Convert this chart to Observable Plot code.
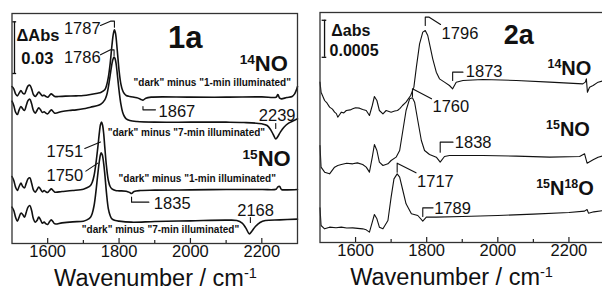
<!DOCTYPE html>
<html><head><meta charset="utf-8">
<script src="https://cdn.jsdelivr.net/npm/d3@7"></script>
<script src="https://cdn.jsdelivr.net/npm/@observablehq/plot@0.6"></script>
<style>
html,body{margin:0;padding:0;background:#fff;overflow:hidden}
#wrap{position:relative;width:602px;height:292px;overflow:hidden;background:#fff}
#p1,#p2{position:absolute;top:0}
#p1{left:0;width:300px}
#p2{left:300px;width:306px}
</style></head><body><div id="wrap"><div id="p1"></div><div id="p2"></div></div>
<script>
// ---------- axis ticks ----------
const majorTicks = [1600, 1800, 2000, 2200];
const minorTicks = [1700, 1900, 2100];
const axisLabel = "Wavenumber / cm^-1^";

// ---------- Panel 1a : [wavenumber, ΔAbs in mAbs (stacked offsets)] ----------
const no14_1min = [[1500,94.2],[1505,92.8],[1510,89.8],[1515,88.6],[1520,90.2],[1525,91.8],[1530,90.2],[1535,89.8],[1540,92.2],[1545,94.6],[1550,95.0],[1555,92.8],[1560,89.4],[1565,88.2],[1570,89.4],[1575,90.8],[1580,89.8],[1585,88.6],[1590,89.0],[1595,88.2],[1600,87.8],[1605,88.8],[1610,89.8],[1615,89.0],[1620,88.2],[1630,88.2],[1650,88.4],[1680,88.6],[1700,88.8],[1720,89.4],[1740,90.2],[1750,90.8],[1760,92.2],[1765,94.8],[1770,99.8],[1775,107.8],[1780,118.8],[1784,125.8],[1787,128.2],[1790,126.2],[1795,115.8],[1800,103.8],[1805,95.8],[1810,91.8],[1815,89.8],[1820,88.8],[1830,88.2],[1850,87.4],[1860,86.6],[1867,86.0],[1875,87.2],[1890,87.8],[2000,87.8],[2100,87.8],[2200,88.0],[2240,87.8],[2245,89.4],[2250,87.2],[2255,86.8],[2270,87.6],[2285,88.2],[2292,89.8],[2297,92.2],[2300,94.2]];
const no14_7min = [[1500,85.4],[1505,82.8],[1510,78.8],[1515,77.4],[1520,80.2],[1525,82.2],[1530,80.8],[1535,79.8],[1540,82.8],[1545,85.8],[1550,86.6],[1555,83.8],[1560,79.8],[1565,78.2],[1570,79.8],[1575,81.4],[1580,80.2],[1585,78.6],[1590,79.0],[1595,78.2],[1600,77.8],[1605,79.0],[1610,80.2],[1615,79.2],[1620,78.2],[1640,79.2],[1660,79.8],[1680,80.2],[1700,80.8],[1720,81.8],[1740,82.8],[1750,83.8],[1760,86.2],[1765,88.8],[1770,93.8],[1775,100.8],[1780,107.8],[1783,110.6],[1786,111.8],[1789,110.8],[1792,107.4],[1795,101.8],[1800,91.8],[1805,83.8],[1810,78.8],[1815,76.2],[1820,74.8],[1830,73.8],[1850,73.2],[1900,72.8],[2000,72.8],[2100,72.8],[2150,72.6],[2200,71.8],[2215,70.8],[2225,68.2],[2232,65.4],[2239,62.8],[2245,64.2],[2252,66.8],[2262,69.8],[2275,72.2],[2290,73.8],[2300,74.8]];
const no15_1min = [[1500,40.2],[1505,37.8],[1510,33.8],[1515,31.8],[1520,34.2],[1525,36.2],[1530,34.2],[1535,33.4],[1540,36.2],[1545,38.8],[1550,39.4],[1555,36.2],[1560,32.2],[1565,30.8],[1570,32.2],[1575,33.8],[1580,32.6],[1585,31.0],[1590,31.8],[1595,31.0],[1600,30.6],[1605,31.8],[1610,32.8],[1615,31.8],[1620,30.8],[1640,31.2],[1670,31.8],[1700,32.6],[1710,33.4],[1720,34.8],[1725,36.8],[1730,40.8],[1735,47.8],[1740,56.8],[1745,66.8],[1748,71.4],[1751,72.8],[1754,70.8],[1757,65.8],[1760,57.8],[1765,45.8],[1770,37.8],[1775,34.2],[1780,32.8],[1790,31.8],[1800,31.6],[1820,31.4],[1830,30.6],[1835,30.0],[1842,31.2],[1860,31.8],[1900,32.0],[2000,32.2],[2100,32.4],[2200,32.4],[2240,32.6],[2245,34.0],[2250,34.2],[2255,32.4],[2270,32.2],[2300,32.4]];
const no15_7min = [[1500,21.8],[1505,19.8],[1510,15.8],[1515,13.4],[1520,15.8],[1525,18.2],[1530,17.4],[1535,15.8],[1540,18.8],[1545,21.8],[1550,22.8],[1555,19.8],[1560,14.8],[1565,12.8],[1570,13.8],[1575,15.8],[1580,14.2],[1585,12.2],[1590,12.8],[1595,11.8],[1600,11.4],[1605,13.0],[1610,14.2],[1615,13.0],[1620,11.8],[1640,12.4],[1670,13.0],[1700,13.4],[1710,14.2],[1720,15.8],[1725,18.2],[1730,22.8],[1735,30.8],[1740,40.8],[1745,49.8],[1748,53.4],[1750,54.4],[1753,53.2],[1757,47.8],[1760,41.8],[1765,29.8],[1770,20.8],[1775,16.8],[1780,14.8],[1790,13.8],[1800,13.4],[1835,12.8],[1900,13.2],[2000,13.6],[2100,14.0],[2130,13.8],[2145,12.2],[2155,9.4],[2165,5.8],[2172,7.4],[2182,10.2],[2195,12.6],[2210,13.8],[2250,14.2],[2300,14.6]];

const p1Leaders = [
  [[1748,130.8],[1776,133.4],[1787,133.4],[1787,129.8]],
  [[1748,113.2],[1776,116.2],[1786,116.2],[1786,112.8]],
  [[1867,82.2],[1867,80.2],[1902,80.2]],
  [[2239,72],[2239,69]],
  [[1704,57.0],[1748,60.9]],
  [[1707,43.4],[1740.5,48.2]],
  [[1835,27.8],[1835,24.8],[1883.5,24.8]],
  [[2168,15.6],[2168,12.6]]
];
const p1PeakCentered = [{t:"1787",x:1697,y:128.6},{t:"1786",x:1697,y:111.2},{t:"2239",x:2243,y:76.8},{t:"1751",x:1648,y:54.8},{t:"1750",x:1648,y:40.8},{t:"2168",x:2182.6,y:19.8}];
const p1PeakLeft = [{t:"1867",x:1910.7,y:79},{t:"1835",x:1897.5,y:24}];
const p1Cond = [
  {t:'"dark" minus "1-min illuminated"',x:2061,y:96.4},
  {t:'"dark" minus "7-min illuminated"',x:1988.6,y:66.2},
  {t:'"dark" minus "1-min illuminated"',x:2019,y:38.8},
  {t:'"dark" minus "7-min illuminated"',x:1916,y:8.2}
];
const p1Iso = [{t:"^14^NO",x:2273,y:107.8},{t:"^15^NO",x:2280.8,y:50.8}];
const p1Title = [{t:"1a",x:1985.5,y:123.4}];
const p1Bar = [{x:1507,y1:102,y2:133}];
const p1Serif = [{y:102,x1:1502,x2:1513},{y:133,x1:1502,x2:1513}];
const p1BarText = [{t:"ΔAbs",x:1512.6,y:124.8},{t:"0.03",x:1525.8,y:110.8}];
const p1AxisLab = [{t:axisLabel,x:1902,y:0}];

// ---------- Panel 2a : [wavenumber, Δabs in µAbs (stacked offsets)] ----------
const n14O = [[1500,2164.5],[1503,2029.5],[1513,1917],[1520,1880],[1527,1827],[1535,1800],[1541,1759.5],[1546,1740],[1550,1692],[1555,1725],[1560,1759.5],[1567,1750],[1574,1782],[1585,1790],[1592,1804.5],[1600,1820],[1611,1813.5],[1620,1795],[1630,1782],[1639,1714.5],[1647,1849.5],[1653,1971],[1660,1917],[1667,1782],[1677,1737],[1686,1782],[1700,1759.5],[1710,1775],[1718,1782],[1725,1810],[1732,1849.5],[1742,1894.5],[1755,1984.5],[1764,2097],[1771,2367],[1780,2682],[1789,2839.5],[1796,2862],[1803,2794.5],[1810,2637],[1817,2479.5],[1827,2299.5],[1836,2209.5],[1850,2164.5],[1864,2119.5],[1873,2074.5],[1883,2164.5],[1902,2187],[1958,2200.5],[2052,2187],[2146,2164.5],[2239,2142],[2246,2164.5],[2249,2209.5],[2252,2029.5],[2258,2097],[2268,2119.5],[2282,2164.5],[2300,2187]];
const n15O = [[1500,1309.5],[1503,1017],[1513,949.5],[1527,927],[1541,1017],[1550,1040],[1560,1053],[1575,1070],[1592,1062],[1605,1075],[1620,1053],[1630,1017],[1639,949.5],[1647,1152],[1653,1323],[1660,1242],[1667,1084.5],[1677,1039.5],[1691,1062],[1700,1107],[1714,1152],[1724,1242],[1733,1512],[1742,1782],[1752,1939.5],[1760,1953],[1766,1894.5],[1775,1647],[1785,1377],[1794,1242],[1808,1188],[1827,1152],[1838,1084.5],[1850,1161],[1864,1174.5],[1958,1174.5],[2052,1165.5],[2146,1152],[2230,1161],[2244,1197],[2251,1071],[2268,1116],[2282,1152],[2300,1174.5]];
const n15O18 = [[1500,468],[1503,229.5],[1513,184.5],[1527,207],[1545,200],[1560,207],[1575,195],[1592,198],[1620,184.5],[1630,171],[1639,139.5],[1647,274.5],[1653,378],[1660,319.5],[1667,207],[1677,184.5],[1691,297],[1700,612],[1708,859.5],[1717,927],[1724,882],[1733,702],[1742,522],[1757,387],[1775,364.5],[1789,288],[1799,342],[1827,342],[1900,351],[2000,364.5],[2100,382.5],[2200,405],[2244,423],[2251,445.5],[2255,396],[2270,414],[2300,432]];

const p2Leaders = [
  [[1796,2929.5],[1796,3042],[1807,3042],[1839,2943]],
  [[1873,2187],[1873,2299.5],[1902,2299.5]],
  [[1760,1971],[1760,2074.5],[1813.6,1939.5]],
  [[1838,1219.5],[1838,1354.5],[1874,1354.5]],
  [[1717,949.5],[1717,1071],[1770,940.5]],
  [[1789,351],[1789,468],[1818,468]]
];
const p2PeakLeft = [{t:"1796",x:1842,y:2817},{t:"1873",x:1910,y:2299.5},{t:"1760",x:1816.4,y:1827},{t:"1838",x:1879,y:1341},{t:"1717",x:1773,y:814.5},{t:"1789",x:1821,y:454.5}];
const p2Iso = [{t:"^14^NO",x:2263,y:2344.5},{t:"^15^NO",x:2259,y:1525.5},{t:"^15^N^18^O",x:2270,y:733.5}];
const p2Title = [{t:"2a",x:2059,y:2794.5}];
const p2Bar = [{x:1512.8,y1:2500,y2:3000}];
const p2Serif = [{y:2500,x1:1506,x2:1519},{y:3000,x1:1506,x2:1519}];
const p2BarText = [{t:"Δabs",x:1531.6,y:2853},{t:"0.0005",x:1527,y:2583}];
const p2AxisLab = [{t:axisLabel,x:1870,y:0}];

// ---------- helpers ----------
const FONT = '"Liberation Sans", Arial, Helvetica, sans-serif';
const flat = L => L.flatMap((pts,i) => pts.map(p => ({g:i, x:p[0], y:p[1]})));
function supify(svg){
  svg.querySelectorAll("text").forEach(t => {
    const s = t.textContent;
    if (!s.includes("^")) return;
    t.textContent = "";
    s.split("^").forEach((part,i) => {
      if (!part) return;
      const ts = document.createElementNS("http://www.w3.org/2000/svg","tspan");
      ts.textContent = part;
      if (i % 2 === 1) { ts.setAttribute("font-size","62%"); ts.setAttribute("baseline-shift","super"); }
      t.appendChild(ts);
    });
  });
}
function panel(o){
  const H = 292;
  const ph = H - o.mt - o.mb;
  return Plot.plot({
    width: o.w, height: H,
    marginLeft: o.ml, marginRight: o.mr, marginTop: o.mt, marginBottom: o.mb,
    x: {domain:[1500,2300], ticks: majorTicks, tickSize: 0, tickPadding: 2, tickFormat: d => String(d), label: null},
    y: {domain: o.yd, axis: null},
    style: {fontFamily: FONT, fontSize: "16.5px", background: "white", color: "#111", overflow: "hidden", maxWidth: "none"},
    marks: [
      Plot.tickX(majorTicks, {x: d => d, insetTop: ph - 5, stroke: "#222", strokeWidth: 1.2}),
      Plot.tickX(minorTicks, {x: d => d, insetTop: ph - 3, stroke: "#222", strokeWidth: 1.2}),
      ...o.curves.map(c => Plot.line(c, {x: d => d[0], y: d => d[1], stroke: "#111", strokeWidth: o.lw, curve: o.curve})),
      Plot.line(flat(o.leaders), {x: "x", y: "y", z: "g", stroke: "#111", strokeWidth: 1.1}),
      Plot.ruleX(o.bar, {x: "x", y1: "y1", y2: "y2", stroke: "#111", strokeWidth: 1.3}),
      Plot.ruleY(o.serif, {y: "y", x1: "x1", x2: "x2", stroke: "#111", strokeWidth: 1.3}),
      ...o.texts,
      Plot.text(o.axisLab, {x: "x", y: "y", text: "t", dy: 35, fontSize: 23.5, fill: "#111"}),
      Plot.frame({stroke: "#333", strokeWidth: 1.3})
    ]
  });
}

const svg1 = panel({
  w: 300, ml: 11.5, mr: 3, mt: 13, mb: 49, yd: [0,138], lw: 1.6, curve: "catmull-rom",
  curves: [no14_1min, no14_7min, no15_1min, no15_7min],
  leaders: p1Leaders, bar: p1Bar, serif: p1Serif, axisLab: p1AxisLab,
  texts: [
    Plot.text(p1PeakCentered, {x:"x", y:"y", text:"t", fontSize:16.5, fill:"#111"}),
    Plot.text(p1PeakLeft, {x:"x", y:"y", text:"t", fontSize:16.5, textAnchor:"start", fill:"#111"}),
    Plot.text(p1Cond, {x:"x", y:"y", text:"t", fontSize:10, fontWeight:"bold", fill:"#111"}),
    Plot.text(p1Iso, {x:"x", y:"y", text:"t", fontSize:22, fontWeight:"bold", textAnchor:"end", fill:"#111"}),
    Plot.text(p1Title, {x:"x", y:"y", text:"t", fontSize:31, fontWeight:"bold", fill:"#111"}),
    Plot.text(p1BarText, {x:"x", y:"y", text:"t", fontSize:16.5, fontWeight:"bold", textAnchor:"start", fill:"#111"})
  ]
});
const svg2 = panel({
  w: 306, ml: 19.5, mr: 2, mt: 12, mb: 50, yd: [0,3105], lw: 1.1, curve: "linear",
  curves: [n14O, n15O, n15O18],
  leaders: p2Leaders, bar: p2Bar, serif: p2Serif, axisLab: p2AxisLab,
  texts: [
    Plot.text(p2PeakLeft, {x:"x", y:"y", text:"t", fontSize:16.5, textAnchor:"start", fill:"#111"}),
    Plot.text(p2Iso, {x:"x", y:"y", text:"t", fontSize:20, fontWeight:"bold", textAnchor:"end", fill:"#111"}),
    Plot.text(p2Title, {x:"x", y:"y", text:"t", fontSize:27, fontWeight:"bold", fill:"#111"}),
    Plot.text(p2BarText, {x:"x", y:"y", text:"t", fontSize:16, fontWeight:"bold", textAnchor:"start", fill:"#111"})
  ]
});
document.getElementById("p1").appendChild(svg1);
document.getElementById("p2").appendChild(svg2);
supify(svg1); supify(svg2);
</script></body></html>
